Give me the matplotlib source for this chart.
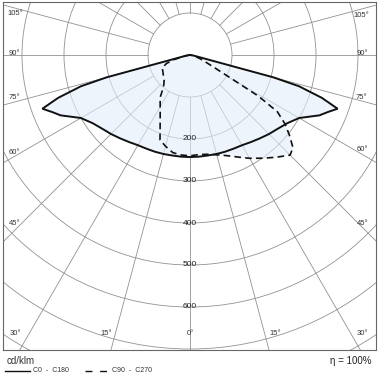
import numpy as np
import matplotlib
matplotlib.use('Agg')
import matplotlib.pyplot as plt
from matplotlib.path import Path
from matplotlib.patches import PathPatch, Circle
from matplotlib.lines import Line2D

plt.rcParams['font.family'] = ['Liberation Sans', 'DejaVu Sans']

# light distribution, cd/klm, gamma in degrees (0 = straight down)
c0_gamma = [0, 5, 10, 15, 20, 25, 30, 35, 40, 45, 50, 55, 60, 65, 67.5, 70, 72, 74, 75, 80, 85, 90]
c0_cd = [243, 243, 243, 244, 245, 246, 248, 253, 259, 266, 273, 283, 300, 340, 355, 374, 330, 270, 205, 10, 2, 0]

c270_gamma = [0, 5, 10, 15, 19.5, 25, 30, 35, 40, 45, 50, 55, 60, 65, 70, 74, 80, 90]
c270_cd = [240, 239, 236, 225, 214, 168, 142, 124, 98, 87, 82, 78, 75, 73, 60, 42, 10, 0]

c90_gamma = [0, 5, 10, 15, 20, 25, 30, 35, 40, 45, 48, 51, 54, 57, 59, 61, 65, 70, 80, 90]
c90_cd = [240, 238, 240, 246, 255, 268, 284, 300, 318, 337, 330, 305, 280, 248, 190, 95, 45, 25, 8, 0]

rings = [100, 200, 300, 400, 500, 600, 700, 800]
ring_labels = [200, 300, 400, 500, 600]
spoke_step = 15

# angle labels: text, x, y (data units)
angle_labels = [
    ('105°', -415, 98), ('90°', -418, 4), ('75°', -418, -102), ('60°', -418, -231), ('45°', -418, -400),
    ('30°', -415, -662), ('15°', -200, -662), ('0°', 0, -662), ('15°', 202, -662), ('30°', 410, -662),
    ('105°', 408, 95), ('90°', 410, 4), ('75°', 408, -102), ('60°', 410, -226), ('45°', 410, -400),
]


def to_xy(gamma, cd, side):
    g = np.radians(np.asarray(gamma, dtype=float))
    r = np.asarray(cd, dtype=float)
    return side * r * np.sin(g), -r * np.cos(g)


def half_pair(gl, il, gr, ir):
    xl, yl = to_xy(gl, il, -1)
    xr, yr = to_xy(gr, ir, 1)
    x = np.concatenate([xl[::-1], xr])
    y = np.concatenate([yl[::-1], yr])
    return x, y


S = 0.42  # px per cd/klm
W = H = 380
fig = plt.figure(figsize=(3.8, 3.8), dpi=100)
fl, fr, ftop, fbot = 3, 376, 2, 350
ax = fig.add_axes([fl / W, 1 - fbot / H, (fr - fl) / W, (fbot - ftop) / H])
ax.set_xlim((fl - 190) / S, (fr - 190) / S)
ax.set_ylim((55 - fbot) / S, (55 - ftop) / S)
ax.set_xticks([])
ax.set_yticks([])
for sp in ax.spines.values():
    sp.set_color('#666666')
    sp.set_linewidth(0.8)

gcol = '#929292'
for r in rings:
    ax.add_patch(Circle((0, 0), r, fill=False, edgecolor=gcol, linewidth=0.6, zorder=1))
for a in range(0, 360, spoke_step):
    t = np.radians(a)
    ax.plot([100 * np.sin(t), 1100 * np.sin(t)], [-100 * np.cos(t), -1100 * np.cos(t)],
            color=gcol, linewidth=0.6, zorder=1)

# fills (union of both planes)
xs, ys = half_pair(c0_gamma, c0_cd, c0_gamma, c0_cd)
xd, yd = half_pair(c270_gamma, c270_cd, c90_gamma, c90_cd)
verts = list(zip(xs, ys)) + [(xs[0], ys[0])] + list(zip(xd, yd)) + [(xd[0], yd[0])]
codes = ([Path.MOVETO] + [Path.LINETO] * (len(xs) - 1) + [Path.CLOSEPOLY] +
         [Path.MOVETO] + [Path.LINETO] * (len(xd) - 1) + [Path.CLOSEPOLY])
ax.add_patch(PathPatch(Path(verts, codes), facecolor='#e3eefa', edgecolor='none', alpha=0.6, zorder=2))

ax.plot(xs, ys, color='#111111', linewidth=1.4, zorder=3, solid_joinstyle='miter')
ax.plot(xd, yd, color='#111111', linewidth=1.2, dashes=(4, 2.5), zorder=3)

for v in ring_labels:
    ax.text(0, -v, str(v), fontsize=6, ha='center', va='center', color='#222222', zorder=4)
for txt, x, y in angle_labels:
    ax.text(x, y, txt, fontsize=5.5, ha='center', va='center', color='#333333', zorder=4)

# bottom legend
fig.text(7 / W, 1 - 361.5 / H, 'cd/klm', fontsize=7, ha='left', va='center', color='#333333')
fig.add_artist(Line2D([5 / W, 30 / W], [1 - 370.5 / H] * 2, color='#111111', linewidth=1.0))
fig.text(33 / W, 1 - 371 / H, 'C0  -  C180', fontsize=5, ha='left', va='center', color='#333333')
fig.add_artist(Line2D([85 / W, 107 / W], [1 - 370.5 / H] * 2, color='#111111', linewidth=1.0,
                      dashes=(5, 5.5)))
fig.text(112 / W, 1 - 371 / H, 'C90  -  C270', fontsize=5, ha='left', va='center', color='#333333')
fig.text(372 / W, 1 - 361 / H, 'η = 100%', fontsize=7, ha='right', va='center', color='#222222')

fig.savefig('out.png', dpi=100)
